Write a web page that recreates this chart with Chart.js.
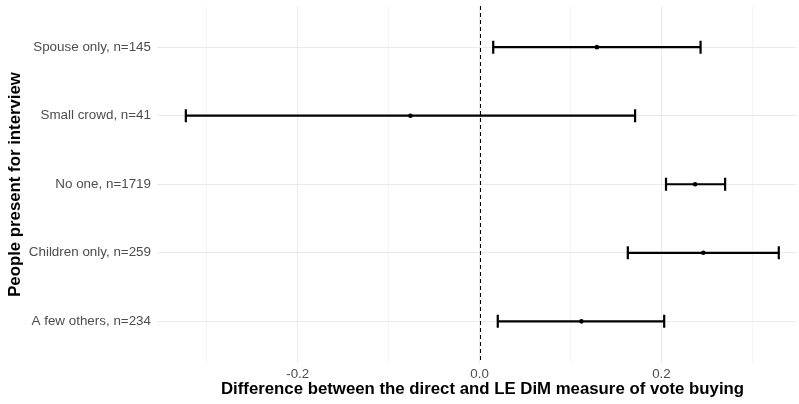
<!DOCTYPE html>
<html>
<head>
<meta charset="utf-8">
<script src="https://cdn.jsdelivr.net/npm/chart.js@4.4.1/dist/chart.umd.min.js"></script>
<style>
  html, body { margin: 0; padding: 0; background: #ffffff; }
  #wrap { width: 799px; height: 404px; position: relative; }
</style>
</head>
<body>
<div id="wrap"><canvas id="c" width="799" height="404"></canvas></div>
<script>
// Who was present at the interview, top to bottom
const categories = [
  'Spouse only, n=145',
  'Small crowd, n=41',
  'No one, n=1719',
  'Children only, n=259',
  'A few others, n=234'
];
// Point estimate and interval bounds of (direct - LE DiM) vote-buying measure
const estimates = [0.129, -0.076, 0.237, 0.246, 0.112];
const lowerBounds = [0.015, -0.323, 0.205, 0.163, 0.020];
const upperBounds = [0.243, 0.171, 0.270, 0.329, 0.203];
// Grid positions on the x axis; only the major ones carry labels
const xGridValues = [-0.3, -0.2, -0.1, 0.0, 0.1, 0.2, 0.3];
const xLabelledValues = [-0.2, 0.0, 0.2];

const FONT = '"Liberation Sans", Arial, Helvetica, sans-serif';

const points = estimates.map((v, i) => ({ x: v, y: i }));

const isMajor = v => xLabelledValues.some(m => Math.abs(m - v) < 1e-9);

// Horizontal interval bars with end caps, plus dashed reference line at zero
const intervalPlugin = {
  id: 'intervals',
  beforeDatasetsDraw(chart) {
    const { ctx, chartArea, scales } = chart;
    const xs = scales.x, ys = scales.y;
    ctx.save();
    // reference line
    const x0 = Math.round(xs.getPixelForValue(0)) + 0.5;
    ctx.strokeStyle = '#000000';
    ctx.lineWidth = 1;
    ctx.setLineDash([4, 3]);
    ctx.beginPath();
    ctx.moveTo(x0, chartArea.top);
    ctx.lineTo(x0, chartArea.bottom);
    ctx.stroke();
    ctx.setLineDash([]);
    // interval bars
    ctx.lineWidth = 2.2;
    ctx.lineCap = 'butt';
    const cap = 6.5;
    for (let i = 0; i < categories.length; i++) {
      const y = ys.getPixelForValue(i);
      const xl = xs.getPixelForValue(lowerBounds[i]);
      const xr = xs.getPixelForValue(upperBounds[i]);
      ctx.beginPath();
      ctx.moveTo(xl, y); ctx.lineTo(xr, y);
      ctx.moveTo(xl, y - cap); ctx.lineTo(xl, y + cap);
      ctx.moveTo(xr, y - cap); ctx.lineTo(xr, y + cap);
      ctx.stroke();
    }
    ctx.restore();
  },
  afterDraw(chart) {
    const { ctx } = chart;
    ctx.save();
    ctx.fillStyle = '#000000';
    ctx.font = 'bold 16.8px ' + FONT;
    ctx.textAlign = 'center';
    ctx.textBaseline = 'middle';
    ctx.fillText('Difference between the direct and LE DiM measure of vote buying', 482.5, 389.5);
    ctx.translate(15.5, 184.5);
    ctx.rotate(-Math.PI / 2);
    ctx.fillText('People present for interview', 0, 0);
    ctx.restore();
  }
};

new Chart(document.getElementById('c'), {
  type: 'scatter',
  data: {
    datasets: [{
      data: points,
      backgroundColor: '#000000',
      borderColor: '#000000',
      pointRadius: 2.3,
      pointHoverRadius: 2.3,
      borderWidth: 0
    }]
  },
  options: {
    responsive: false,
    animation: false,
    events: [],
    layout: { padding: { top: 6, right: 0, bottom: 0, left: 0 } },
    plugins: { legend: { display: false }, tooltip: { enabled: false } },
    scales: {
      x: {
        type: 'linear',
        min: -0.3547,
        max: 0.3487,
        afterBuildTicks: axis => { axis.ticks = xGridValues.map(v => ({ value: v })); },
        afterFit: axis => { axis.height = 41.5; axis.paddingLeft = 0; axis.paddingRight = 0; },
        border: { display: false },
        grid: {
          drawTicks: false,
          color: ctx => (ctx.tick && isMajor(ctx.tick.value)) ? '#ebebeb' : '#f2f2f2',
          lineWidth: ctx => (ctx.tick && isMajor(ctx.tick.value)) ? 1.1 : 0.8
        },
        ticks: {
          padding: 4,
          color: '#4d4d4d',
          font: { family: FONT, size: 13.3 },
          maxRotation: 0,
          autoSkip: false,
          callback: v => isMajor(v) ? v.toFixed(1) : ''
        },
        title: { display: false }
      },
      y: {
        type: 'linear',
        reverse: true,
        min: -0.6,
        max: 4.6,
        afterBuildTicks: axis => { axis.ticks = categories.map((c, i) => ({ value: i })); },
        afterFit: axis => { axis.width = 157; axis.paddingTop = 0; axis.paddingBottom = 0; },
        border: { display: false },
        grid: { drawTicks: false, color: '#ebebeb', lineWidth: 1.1 },
        ticks: {
          padding: 6,
          color: '#4d4d4d',
          font: { family: FONT, size: 13.4 },
          autoSkip: false,
          callback: v => categories[Math.round(v)] || ''
        },
        title: { display: false }
      }
    }
  },
  plugins: [intervalPlugin]
});
</script>
</body>
</html>
